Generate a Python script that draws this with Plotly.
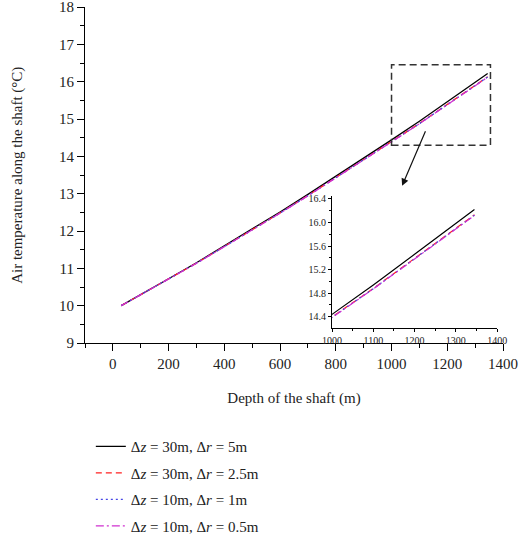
import plotly.graph_objects as go

depth = [30, 100, 200, 300, 400, 500, 600, 700, 800, 900, 1000, 1100, 1200, 1300, 1345]
t_dz30_dr5 = [10.00, 10.29, 10.72, 11.15, 11.60, 12.05, 12.51, 12.98, 13.46, 13.94, 14.44, 14.94, 15.46, 15.98, 16.22]
t_dz30_dr25 = [10.00, 10.29, 10.715, 11.14, 11.585, 12.03, 12.485, 12.95, 13.425, 13.90, 14.395, 14.88, 15.39, 15.895, 16.13]
t_dz10_dr1 = [10.00, 10.29, 10.713, 11.138, 11.582, 12.026, 12.481, 12.945, 13.42, 13.895, 14.39, 14.875, 15.385, 15.89, 16.125]
t_dz10_dr05 = [10.00, 10.29, 10.712, 11.136, 11.58, 12.024, 12.478, 12.942, 13.417, 13.892, 14.387, 14.872, 15.38, 15.885, 16.12]

names = ["Δ<i>z</i> = 30m, Δ<i>r</i> = 5m", "Δ<i>z</i> = 30m, Δ<i>r</i> = 2.5m",
         "Δ<i>z</i> = 10m, Δ<i>r</i> = 1m", "Δ<i>z</i> = 10m, Δ<i>r</i> = 0.5m"]
series = [t_dz30_dr5, t_dz30_dr25, t_dz10_dr1, t_dz10_dr05]
colors = ["#000000", "#ff2020", "#4646e6", "#d030d0"]
dashes = ["solid", "6px,4px", "2px,3px", "8px,3px,2px,3px"]

main_x_ticks = [0, 200, 400, 600, 800, 1000, 1200, 1400]
main_y_ticks = [9, 10, 11, 12, 13, 14, 15, 16, 17, 18]
inset_x_ticks = [1000, 1100, 1200, 1300, 1400]
inset_y_ticks = [14.4, 14.8, 15.2, 15.6, 16.0, 16.4]

zoom_box_x = [1000, 1355]
zoom_box_y = [14.3, 16.45]

y_title = "Air temperature along the shaft (°C)"
x_title = "Depth of the shaft (m)"

SERIF = "Liberation Serif"
fig = go.Figure()
for i, (nm, ys, c, d) in enumerate(zip(names, series, colors, dashes)):
    fig.add_trace(go.Scatter(x=depth, y=ys, mode="lines", name=nm, legendgroup=str(i),
                             line=dict(color=c, dash=d, width=1.3), xaxis="x", yaxis="y"))
for i, (nm, ys, c, d) in enumerate(zip(names, series, colors, dashes)):
    fig.add_trace(go.Scatter(x=depth, y=ys, mode="lines", name=nm, showlegend=False,
                             line=dict(color=c, dash=d, width=1.2), xaxis="x2", yaxis="y2"))

fig.add_shape(type="rect", x0=zoom_box_x[0], x1=zoom_box_x[1], y0=zoom_box_y[0], y1=zoom_box_y[1],
              xref="x", yref="y", line=dict(color="#333333", width=1.5, dash="7px,4px"))
fig.add_annotation(x=1038, y=13.21, ax=1124, ay=14.71, xref="x", yref="y", axref="x", ayref="y",
                   text="", showarrow=True, arrowhead=2, arrowsize=1.2, arrowwidth=1.2, arrowcolor="#111111")
# y-axis title (placed as rotated text so the inset axis does not disturb it)
fig.add_annotation(text=y_title, xref="paper", yref="paper", x=-0.163, y=0.50, textangle=-90,
                   showarrow=False, xanchor="center", yanchor="middle", font=dict(size=15, family=SERIF))

axis_common = dict(showline=True, linecolor="black", linewidth=1.2, ticks="outside", tickcolor="black",
                   showgrid=False, zeroline=False, mirror=False, ticklabeloverflow="allow")
fig.update_layout(
    width=519, height=541,
    margin=dict(l=85, r=16, t=7, b=198, autoexpand=False),
    paper_bgcolor="white", plot_bgcolor="white",
    font=dict(family=SERIF, color="#222222", size=15),
    xaxis=dict(range=[-100, 1400], tickvals=main_x_ticks, ticklen=7, tickwidth=1.2, tickangle=0,
               minor=dict(ticks="outside", dtick=100, tick0=0, ticklen=4, tickcolor="black"),
               title=dict(text=x_title, font=dict(size=15), standoff=21),
               tickfont=dict(size=15), domain=[0, 1], **axis_common),
    yaxis=dict(range=[9, 18], tickvals=main_y_ticks, ticklen=7, tickwidth=1.2,
               minor=dict(ticks="outside", dtick=0.5, tick0=0, ticklen=4, tickcolor="black"),
               tickfont=dict(size=15), **axis_common),
    xaxis2=dict(range=[1000, 1400], tickvals=inset_x_ticks, ticklen=3, tickwidth=1, tickangle=0,
                minor=dict(ticks="outside", dtick=50, tick0=1000, ticklen=2, tickcolor="black"),
                tickfont=dict(size=10), domain=[0.591, 0.986], anchor="y2", **axis_common),
    yaxis2=dict(range=[14.21, 16.45], tickvals=inset_y_ticks, tickformat=".1f", ticklen=3, tickwidth=1,
                minor=dict(ticks="outside", dtick=0.2, tick0=14.4, ticklen=2, tickcolor="black"),
                tickfont=dict(size=10), domain=[0.045, 0.4375], anchor="x2", **axis_common),
    legend=dict(xref="container", yref="container", x=0.175, y=0.205, xanchor="left", yanchor="top",
                font=dict(size=15, family=SERIF), tracegroupgap=4, bgcolor="rgba(0,0,0,0)"),
    showlegend=True,
)
fig.write_html("out.html", config={"displayModeBar": False},
               post_script="document.body.style.margin='0px';")
